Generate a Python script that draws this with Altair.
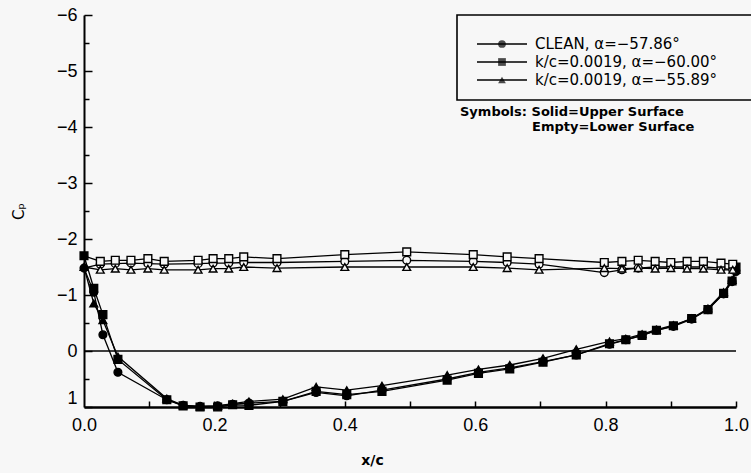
import altair as alt
import pandas as pd

series_names = ["CLEAN, α=−57.86°", "k/c=0.0019, α=−60.00°", "k/c=0.0019, α=−55.89°"]
series_shapes = ["circle", "square", "triangle-up"]

# Upper surface (solid symbols)
x_upper = [0.0, 0.015, 0.029, 0.052, 0.127, 0.152, 0.178, 0.205, 0.228, 0.253, 0.305, 0.356,
           0.403, 0.457, 0.557, 0.605, 0.653, 0.704, 0.755, 0.806, 0.831, 0.856, 0.878, 0.904,
           0.932, 0.957, 0.981, 0.994, 1.0]
cp_upper_clean = [-1.48, -1.05, -0.29, 0.38, 0.87, 0.97, 0.99, 0.98, 0.95, 0.93, 0.90, 0.74,
                  0.80, 0.70, 0.50, 0.38, 0.30, 0.19, 0.07, -0.12, -0.20, -0.28, -0.37, -0.44,
                  -0.57, -0.74, -1.02, -1.24, -1.42]
cp_upper_k60 = [-1.70, -1.12, -0.65, 0.15, 0.87, 0.98, 1.00, 1.00, 0.96, 0.97, 0.90, 0.72,
                0.78, 0.72, 0.52, 0.40, 0.32, 0.20, 0.07, -0.13, -0.20, -0.28, -0.37, -0.45,
                -0.58, -0.74, -1.03, -1.25, -1.50]
cp_upper_k56 = [-1.50, -0.85, -0.55, 0.10, 0.85, 0.97, 0.99, 0.98, 0.94, 0.90, 0.86, 0.64,
                0.70, 0.62, 0.43, 0.33, 0.25, 0.13, -0.03, -0.17, -0.22, -0.30, -0.38, -0.46,
                -0.58, -0.76, -1.05, -1.27, -1.45]

# Lower surface (empty symbols)
x_lower = [0.0, 0.025, 0.048, 0.072, 0.098, 0.123, 0.175, 0.198, 0.222, 0.245, 0.296, 0.40,
           0.495, 0.597, 0.649, 0.698, 0.798, 0.825, 0.85, 0.876, 0.90, 0.925, 0.95, 0.977,
           0.995, 1.0]
cp_lower_clean = [-1.48, -1.55, -1.56, -1.57, -1.56, -1.55, -1.56, -1.57, -1.57, -1.58, -1.58,
                  -1.60, -1.62, -1.60, -1.58, -1.55, -1.40, -1.45, -1.48, -1.50, -1.50, -1.50,
                  -1.50, -1.48, -1.45, -1.42]
cp_lower_k60 = [-1.70, -1.60, -1.62, -1.62, -1.65, -1.60, -1.62, -1.65, -1.65, -1.68, -1.65,
                -1.72, -1.77, -1.72, -1.68, -1.65, -1.58, -1.60, -1.62, -1.60, -1.58, -1.60,
                -1.60, -1.57, -1.55, -1.50]
cp_lower_k56 = [-1.50, -1.45, -1.47, -1.45, -1.47, -1.45, -1.45, -1.47, -1.47, -1.50, -1.48,
                -1.50, -1.50, -1.50, -1.48, -1.45, -1.48, -1.47, -1.48, -1.47, -1.48, -1.47,
                -1.47, -1.45, -1.45, -1.45]

y_major = [-6, -5, -4, -3, -2, -1, 0, 1]
y_minor = [-5.5, -4.5, -3.5, -2.5, -1.5, -0.5, 0.5]
x_labels = [0.0, 0.2, 0.4, 0.6, 0.8, 1.0]
x_ticks = [0.1, 0.2, 0.3, 0.4, 0.5, 0.6, 0.7, 0.8, 0.9, 1.0]

BG = "#f7f7f7"
W, H = 652, 392

rows = []
uppers = [cp_upper_clean, cp_upper_k60, cp_upper_k56]
lowers = [cp_lower_clean, cp_lower_k60, cp_lower_k56]
for name, up, lo in zip(series_names, uppers, lowers):
    for x, cp in zip(x_upper, up):
        rows.append(dict(series=name, surface="Upper", x=x, cp=cp, marker=True))
    for x, cp in zip(x_lower, lo):
        rows.append(dict(series=name, surface="Lower", x=x, cp=cp,
                         marker=(0.0 < x < 1.0)))
df = pd.DataFrame(rows)

xscale = alt.Scale(domain=[0, 1], nice=False, zero=False)
yscale = alt.Scale(domain=[-6, 1], reverse=True, nice=False, zero=False)

axis_font = "Liberation Sans"

lines = alt.Chart(df).mark_line(color="black", strokeWidth=1.3).encode(
    x=alt.X("x:Q", scale=xscale, axis=alt.Axis(
        orient="bottom", values=x_labels, format=".1f", ticks=False, grid=False,
        labelFlush=False, labelOverlap=False,
        domainColor="black", domainWidth=2.5, labelFont=axis_font, labelFontSize=18,
        labelColor="black", labelPadding=9, title="x/c", titleFont="DejaVu Sans",
        titleFontSize=14, titleFontWeight="bold", titleColor="black",
        titleX=288, titleY=53, titleBaseline="middle", titleAlign="center")),
    y=alt.Y("cp:Q", scale=yscale, axis=alt.Axis(
        orient="left", values=y_major, format="d", ticks=False, grid=False,
        labelFlush=False, labelOverlap=False,
        labelBaseline={"condition": {"test": "datum.value == 1", "value": "bottom"},
                       "value": "middle"},
        domainColor="black", domainWidth=2, labelFont=axis_font, labelFontSize=18,
        labelColor="black", labelPadding=7, title="Cₚ", titleFont="DejaVu Sans",
        titleFontSize=15, titleColor="black", titleFontWeight="normal",
        titleAngle=270, titleX=-66, titleY=196, titleBaseline="middle",
        titleAlign="center")),
    detail=["series:N", "surface:N"],
    order=alt.Order("x:Q"),
)

points = alt.Chart(df).transform_filter(alt.datum.marker).mark_point(
    filled=True, size=60, stroke="black", strokeWidth=1.4, opacity=1).encode(
    x=alt.X("x:Q", scale=xscale, axis=alt.Axis(
        orient="top", offset=-H, labels=False, domain=False, grid=False, values=x_ticks,
        tickSize=6, tickColor="black", tickWidth=1.5, title=None)),
    y=alt.Y("cp:Q", scale=yscale, axis=alt.Axis(
        orient="right", offset=-W, labels=False, domain=False, grid=False, values=y_major,
        tickSize=8, tickColor="black", tickWidth=1.5, title=None)),
    shape=alt.Shape("series:N", scale=alt.Scale(domain=series_names, range=series_shapes),
                    legend=None),
    fill=alt.Fill("surface:N", scale=alt.Scale(domain=["Upper", "Lower"], range=["black", BG]),
                  legend=None),
)

zero = alt.Chart(pd.DataFrame({"v": [0]})).mark_rule(color="black", strokeWidth=1.5).encode(
    y=alt.Y("v:Q", scale=yscale, axis=alt.Axis(
        orient="right", offset=-W, labels=False, domain=False, grid=False, values=y_minor,
        tickSize=5, tickColor="black", tickWidth=1.5, title=None)),
)

one = pd.DataFrame({"a": [0]})
box = alt.Chart(one).mark_rect(fill=BG, fillOpacity=1, stroke="black", strokeWidth=1.6).encode(
    x=alt.value(373), x2=alt.value(690), y=alt.value(0), y2=alt.value(85))

leg_layers = [box]
leg_y = [29, 47, 65]
for name, shp, yy in zip(series_names, series_shapes, leg_y):
    d = pd.DataFrame({"label": [name], "shape": [shp]})
    leg_layers.append(alt.Chart(d).mark_rule(color="black", strokeWidth=1.3).encode(
        x=alt.value(393), x2=alt.value(443), y=alt.value(yy)))
    leg_layers.append(alt.Chart(d).mark_point(filled=True, size=60, color="black", shape=shp).encode(
        x=alt.value(418), y=alt.value(yy)))
    leg_layers.append(alt.Chart(d).mark_text(align="left", baseline="middle", font="DejaVu Sans",
                                             fontSize=15, color="black").encode(
        x=alt.value(451), y=alt.value(yy), text="label:N"))

notes = ["Symbols: Solid=Upper Surface", "Empty=Lower Surface"]
note_x = [376, 448]
note_y = [97, 112]
for t, nx, ny in zip(notes, note_x, note_y):
    leg_layers.append(alt.Chart(pd.DataFrame({"t": [t]})).mark_text(
        align="left", baseline="middle", font="DejaVu Sans", fontWeight="bold", fontSize=13,
        color="black").encode(x=alt.value(nx), y=alt.value(ny), text="t:N"))

chart = alt.layer(lines, zero, points, *leg_layers).resolve_axis(
    x="independent", y="independent").properties(
    width=W, height=H,
    autosize=alt.AutoSizeParams(type="none"),
    padding={"left": 84, "top": 15, "right": 15, "bottom": 66},
).configure(background=BG).configure_view(stroke=None)

chart.save("out.html", embed_options={"renderer": "svg", "actions": False})
